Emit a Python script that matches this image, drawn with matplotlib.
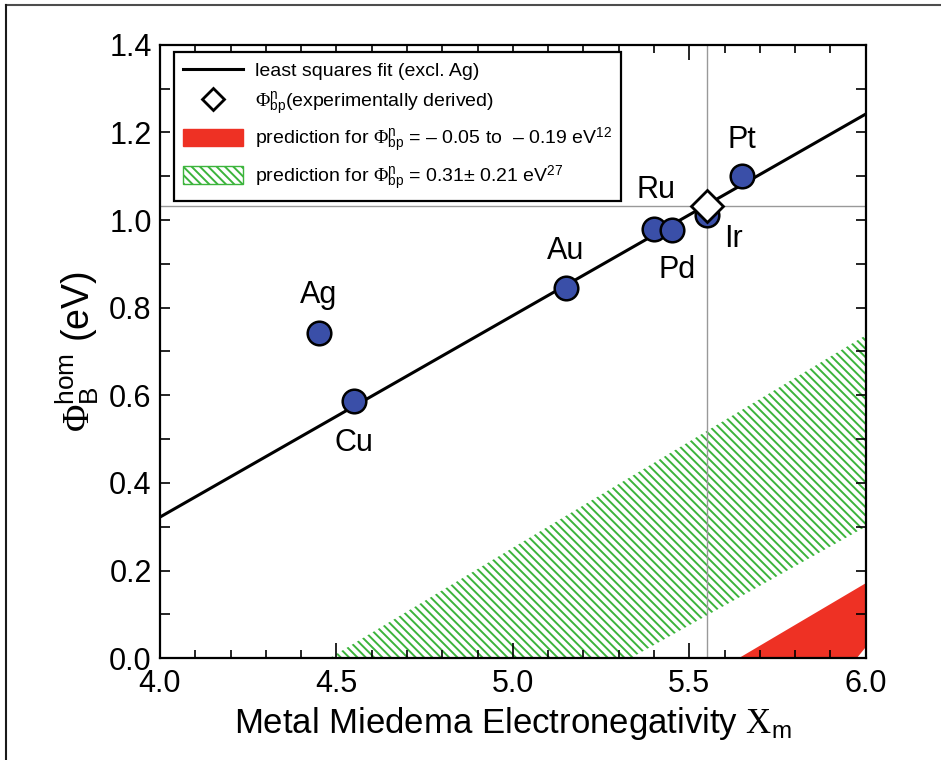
import matplotlib
matplotlib.use('Agg')
import matplotlib.pyplot as plt
from matplotlib.lines import Line2D
from matplotlib.patches import Patch
from matplotlib.ticker import MultipleLocator

plt.rcParams['font.family'] = ['Liberation Sans', 'DejaVu Sans']
plt.rcParams['mathtext.fontset'] = 'custom'
plt.rcParams['mathtext.rm'] = 'Liberation Serif'
plt.rcParams['mathtext.it'] = 'Liberation Serif:italic'
plt.rcParams['mathtext.sf'] = 'Liberation Sans'
plt.rcParams['hatch.color'] = '#3cb43c'
plt.rcParams['hatch.linewidth'] = 1.4

# metals: Miedema electronegativity vs barrier height
metals = ['Ag', 'Cu', 'Au', 'Ru', 'Pd', 'Ir', 'Pt']
xm = [4.45, 4.55, 5.15, 5.40, 5.45, 5.55, 5.65]
phi_b = [0.743, 0.586, 0.845, 0.979, 0.977, 1.011, 1.100]

# experimentally derived point
exp_x = [5.55]
exp_y = [1.033]

# least squares fit (excl. Ag), end points
fit_x = [4.0, 6.0]
fit_y = [0.322, 1.242]

# prediction bands (edges at x = 4.0 and 6.0)
band_x = [4.0, 6.0]
green_lo = [-0.60, 0.300]
green_hi = [-0.233, 0.737]
red_lo = [-1.94, 0.025]
red_hi = [-0.78, 0.171]

fig = plt.figure(figsize=(9.41, 7.6), dpi=100)
ax = fig.add_axes([0.170, 0.134, 0.750, 0.807])

# bands
ax.fill_between(band_x, green_lo, green_hi, facecolor='white',
                edgecolor='#3cb43c', hatch='\\\\\\\\', linewidth=0, zorder=1)
ax.fill_between(band_x, red_lo, red_hi, facecolor='#ee3124',
                edgecolor='none', linewidth=0, zorder=1)

# guide lines
ax.axvline(exp_x[0], color='0.6', lw=1, zorder=2)
ax.axhline(exp_y[0], color='0.6', lw=1, zorder=2)

# fit line
ax.plot(fit_x, fit_y, color='black', lw=2.2, zorder=3)

# data points
ax.plot(xm, phi_b, 'o', ms=17, mfc='#3a4fa8', mec='black', mew=1.8, zorder=4)
ax.plot(exp_x, exp_y, 'D', ms=16, mfc='white', mec='black', mew=2, zorder=5)

# point labels
offsets = {'Ag': (0.0, 0.085), 'Cu': (0.0, -0.095), 'Au': (0.0, 0.085),
           'Ru': (0.005, 0.09), 'Pd': (0.015, -0.09), 'Ir': (0.075, -0.055),
           'Pt': (0.0, 0.083)}
for name, x, y in zip(metals, xm, phi_b):
    dx, dy = offsets[name]
    ax.text(x + dx, y + dy, name, fontsize=22, ha='center', va='center')

ax.set_xlim(4.0, 6.0)
ax.set_ylim(0.0, 1.4)
ax.xaxis.set_major_locator(MultipleLocator(0.5))
ax.xaxis.set_minor_locator(MultipleLocator(0.1))
ax.yaxis.set_major_locator(MultipleLocator(0.2))
ax.yaxis.set_minor_locator(MultipleLocator(0.1))
ax.xaxis.set_major_formatter(plt.FormatStrFormatter('%.1f'))
ax.yaxis.set_major_formatter(plt.FormatStrFormatter('%.1f'))
ax.tick_params(which='both', direction='in', top=True, right=True,
               labelsize=22, width=1.2)
ax.tick_params(axis='x', which='major', length=11, pad=8)
ax.tick_params(axis='x', which='minor', length=6)
ax.tick_params(axis='y', which='both', length=7, pad=6)
for s in ax.spines.values():
    s.set_linewidth(1.6)

ax.set_xlabel('Metal Miedema Electronegativity $\\mathrm{X}_{\\mathsf{m}}$',
              fontsize=25, labelpad=4)
ax.set_ylabel('$\\Phi_{\\mathsf{B}}^{\\mathsf{hom}}$ (eV)', fontsize=27,
              labelpad=6)

# legend
handles = [
    Line2D([], [], color='black', lw=2.2),
    Line2D([], [], marker='D', ls='none', ms=11, mfc='white', mec='black', mew=2),
    Patch(facecolor='#ee3124', edgecolor='#ee3124'),
    Patch(facecolor='white', edgecolor='#3cb43c', hatch='\\\\\\\\'),
]
labels = [
    'least squares fit (excl. Ag)',
    '$\\Phi^{\\mathsf{n}}_{\\mathsf{bp}}$(experimentally derived)',
    'prediction for $\\Phi^{\\mathsf{n}}_{\\mathsf{bp}}$ = \u2013 0.05 to  \u2013 0.19 eV$^{\\mathsf{12}}$',
    'prediction for $\\Phi^{\\mathsf{n}}_{\\mathsf{bp}}$ = 0.31\u00b1 0.21 eV$^{\\mathsf{27}}$',
]
leg = ax.legend(handles, labels, loc='upper left', bbox_to_anchor=(0.02, 0.988),
                fontsize=14, fancybox=False, framealpha=1, edgecolor='black',
                handlelength=3.1, handleheight=1.0, handletextpad=0.6,
                borderpad=0.45, borderaxespad=0, labelspacing=0.45)
leg.get_frame().set_linewidth(1.6)
leg.set_zorder(6)

# outer border (top and left)
fig.add_artist(Line2D([0.006, 1.0], [0.994, 0.994], color='0.3', lw=1.5))
fig.add_artist(Line2D([0.006, 0.006], [0.0, 0.994], color='0.1', lw=1.5))

fig.savefig('out.png', dpi=100)
